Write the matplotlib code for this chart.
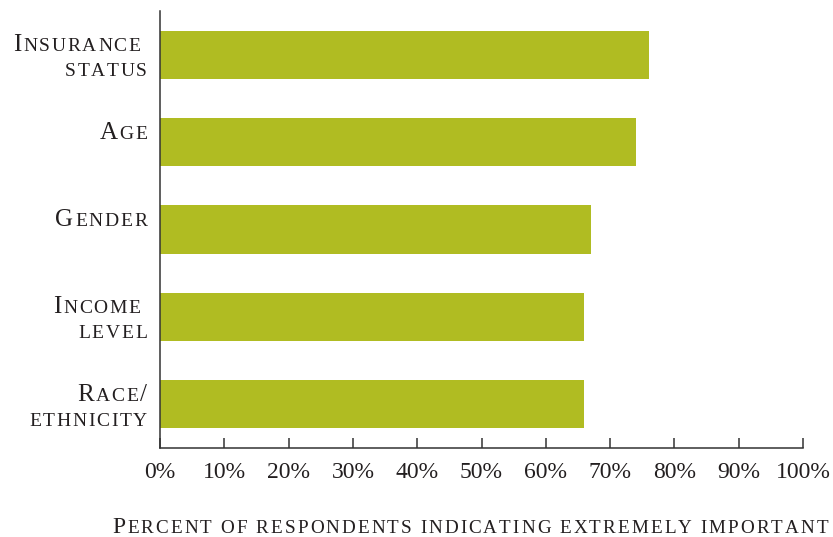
import matplotlib
matplotlib.use("Agg")
import matplotlib.pyplot as plt
from matplotlib.transforms import IdentityTransform

categories = ["Insurance status", "Age", "Gender", "Income level", "Race/ethnicity"]
label_lines = [["Insurance ", "status"], ["Age"], ["Gender"], ["Income ", "level"], ["Race/", "ethnicity"]]
values = [76, 74, 67, 66, 66]
xticks = [0, 10, 20, 30, 40, 50, 60, 70, 80, 90, 100]
xtick_labels = [f"{v}%" for v in xticks]
xlabel = "Percent of respondents indicating extremely important"

BAR_COLOR = "#b0bc22"
TEXT_COLOR = "#231f20"
FONT = "Liberation Serif"

W, H = 833, 537
fig = plt.figure(figsize=(W / 100, H / 100), dpi=100)
ax = fig.add_axes([160 / W, (H - 448) / H, 643 / W, (448 - 11) / H])

ypos = list(range(len(categories)))
ax.barh(ypos, values, height=0.55, color=BAR_COLOR, zorder=2)
ax.set_xlim(0, 100)
ax.set_ylim(len(categories) - 0.5, -0.5)
ax.set_yticks([])
ax.set_xticks(xticks)
ax.set_xticklabels(xtick_labels, fontfamily=FONT, fontsize=17, color=TEXT_COLOR)
ax.tick_params(axis="x", direction="in", length=7.2, width=1.1, color="#333333", pad=10)
for s in ["top", "right"]:
    ax.spines[s].set_visible(False)
for s in ["left", "bottom"]:
    ax.spines[s].set_linewidth(1.1)
    ax.spines[s].set_color("#333333")

renderer = fig.canvas.get_renderer()
_cache = {}


def text_width(s, size):
    key = (s, size)
    if key not in _cache:
        t = fig.text(0, 0, s, fontsize=size, fontfamily=FONT, transform=IdentityTransform())
        _cache[key] = t.get_window_extent(renderer).width
        t.remove()
    return _cache[key]


def char_advance(c, size):
    return text_width("H" + c + "H", size) - text_width("HH", size)


def smallcaps(s, x, y, big, small, ha="right", tracking=0.0, width=None):
    items = []
    for ch in s:
        if ch == " ":
            items.append((" ", small))
        else:
            items.append((ch.upper(), small if ch.islower() else big))
    adv = [char_advance(c, sz) for c, sz in items]
    n = len(items)
    base_total = sum(adv)
    if width is not None and n > 1:
        tracking = (width - base_total) / (n - 1)
    total = base_total + tracking * (n - 1)
    cur = x - total if ha == "right" else x
    for (c, sz), a in zip(items, adv):
        if c != " ":
            fig.text(cur, y, c, fontsize=sz, fontfamily=FONT, color=TEXT_COLOR,
                     ha="left", va="baseline", transform=IdentityTransform())
        cur += a + tracking


fig.canvas.draw()
for i, lines in enumerate(label_lines):
    cy = ax.transData.transform((0, ypos[i]))[1]
    for j, line in enumerate(lines):
        base = cy + 3.5 - 25 * j
        smallcaps(line, 147, base, 18, 14, ha="right", tracking=1.7)

smallcaps(xlabel, 112, H - 533, 17, 13.8, ha="left", width=716)

fig.savefig("out.png", dpi=100)
